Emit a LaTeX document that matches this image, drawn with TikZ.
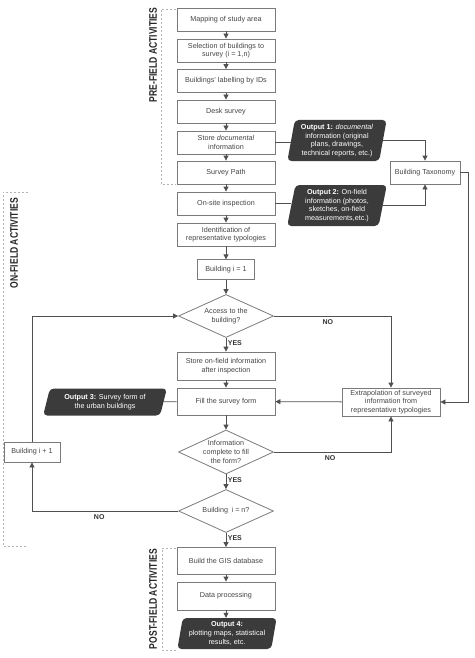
\documentclass[tikz,border=0pt]{standalone}
\usepackage{fontspec}
\setmainfont{Liberation Sans}
\newfontfamily\phasefont[FakeStretch=0.78]{Liberation Sans}
\usetikzlibrary{arrows.meta,shapes.geometric}
\definecolor{boxline}{HTML}{7A7A7A}
\definecolor{txt}{HTML}{454545}
\definecolor{outfill}{HTML}{3B3B3B}
\definecolor{arrline}{HTML}{505050}

\begin{document}
\begin{tikzpicture}[x=1pt,y=-1pt,font=\fontsize{7.2}{8.6}\selectfont,text=txt,
  box/.style={draw=boxline,line width=.8pt,fill=white,align=center,minimum width=98pt,minimum height=23pt,inner xsep=2pt,inner ysep=1pt},
  decision/.style={diamond,draw=boxline,line width=.8pt,minimum width=95pt,minimum height=43pt,inner sep=0pt},
  output/.style={trapezium,trapezium left angle=79,trapezium right angle=101,trapezium stretches=true,rounded corners=4pt,fill=outfill,text=white,align=center,inner xsep=2pt,inner ysep=1pt},
  arr/.style={draw=arrline,line width=.8pt,-{Triangle[length=5pt,width=5pt]}},
  link/.style={draw=arrline,line width=.8pt},
  answer/.style={font=\fontsize{7}{8}\selectfont\bfseries,text=black!80,inner sep=1.5pt},
  phase/.style={draw=gray!60,line width=.6pt,dash pattern=on 2pt off 2pt},
  phaselabel/.style={rotate=90,font=\phasefont\fontsize{11}{12}\selectfont\bfseries,text=black!85}]
\useasboundingbox (0,0) rectangle (474,658);

% phases
\draw[phase] (176,9) -| (161,184) -- (176,184);
\node[phaselabel] (prelab) at (153,55) {PRE-FIELD ACTIVITIES};
\draw[phase] (28,192) -| (3,546) -- (28,546);
\node[phaselabel] (onlab) at (14,243) {ON-FIELD ACTIVITIES};
\draw[phase] (176,548) -| (162,650) -- (176,650);
\node[phaselabel] (postlab) at (153,599) {POST-FIELD ACTIVITIES};

% main column
\node[box] (map) at (226,19.5) {Mapping of study area};
\node[box] (sel) at (226,50.5) {Selection of buildings to\\survey (i = 1,n)};
\node[box] (lab) at (226,81) {Buildings' labelling by IDs};
\node[box] (desk) at (226,111.5) {Desk survey};
\node[box] (store) at (226,142.5) {Store \textit{documental}\\information};
\node[box] (path) at (226,172.5) {Survey Path};
\node[box] (onsite) at (226,203.5) {On-site inspection};
\node[box] (ident) at (226,234.5) {Identification of\\representative typologies};
\node[box,minimum width=57pt,minimum height=19.5pt] (first) at (226,269.5) {Building i = 1};
\node[decision,label={[align=center]center:Access to the\\building?}] (access) at (226,316) {};
\node[box,minimum height=28pt] (storeon) at (226,366) {Store on-field information\\after inspection};
\node[box,minimum height=27pt] (fill) at (226,401.5) {Fill the survey form};
\node[decision,minimum height=44pt,label={[align=center]center:Information\\complete to fill\\the form?}] (complete) at (226,452) {};
\node[decision,label={[align=center]center:Building\enspace i = n?}] (last) at (226,511) {};
\node[box,minimum height=27pt] (gis) at (226,561) {Build the GIS database};
\node[box,minimum height=28pt] (proc) at (226,596) {Data processing};
\node[output,minimum height=31pt,minimum width=100pt] (out4) at (227,633.5) {\textbf{Output 4:}\\plotting maps, statistical\\results, etc.};

% side nodes
\node[output,minimum height=41pt,minimum width=100pt] (out1) at (337,140.5) {\textbf{Output 1:} \textit{documental}\\information (original\\plans, drawings,\\technical reports, etc.)};
\node[output,minimum height=41pt,minimum width=100pt] (out2) at (337,205.5) {\textbf{Output 2:} On-field\\information (photos,\\sketches, on-field\\measurements,etc.)};
\node[box,minimum width=70pt] (taxon) at (425,172.5) {Building Taxonomy};
\node[box,minimum height=28pt] (extra) at (391,402) {Extrapolation of surveyed\\information from\\representative typologies};
\node[output,minimum height=27pt,minimum width=124pt,trapezium left angle=73,trapezium right angle=107] (out3) at (105,402) {\textbf{Output 3:} Survey form of\\the urban buildings};
\node[box,minimum width=56pt,minimum height=20pt] (next) at (32,452) {Building i + 1};

% connectors
\foreach \a/\b in {map/sel,sel/lab,lab/desk,desk/store,store/path,path/onsite,onsite/ident,ident/first,first/access,storeon/fill,fill/complete,gis/proc}
  \draw[arr] (\a) -- (\b);
\draw[arr] (proc) -- (proc |- out4.north);
\draw[arr] (access) -- node[answer,pos=.35,right] (yes1) {YES} (storeon);
\draw[arr] (complete) -- node[answer,pos=.4,right] (yes2) {YES} (last);
\draw[arr] (last) -- node[answer,pos=.35,right] (yes3) {YES} (gis);
\draw[link] (store.east) -- (store.east -| out1.west);
\draw[link] (onsite.east) -- (onsite.east -| out2.west);
\draw[arr] (out1.east) -| (taxon.north);
\draw[arr] (out2.east) -| (taxon.south);
\draw[arr] (taxon.east) -- ++(8,0) |- (extra.east);
\draw[arr] (access.east) -| node[answer,pos=.23,below=2pt] (no1) {NO} (extra.north);
\draw[arr] (complete.east) -| node[answer,pos=.24,below=2pt] (no2) {NO} (extra.south);
\draw[arr] (extra) -- (fill);
\draw[link] (fill) -- (out3);
\draw[arr] (last.west) -| node[answer,pos=.27,below=2pt] (no3) {NO} (next.south);
\draw[arr] (next.north) |- (access.west);
\end{tikzpicture}
\end{document}
